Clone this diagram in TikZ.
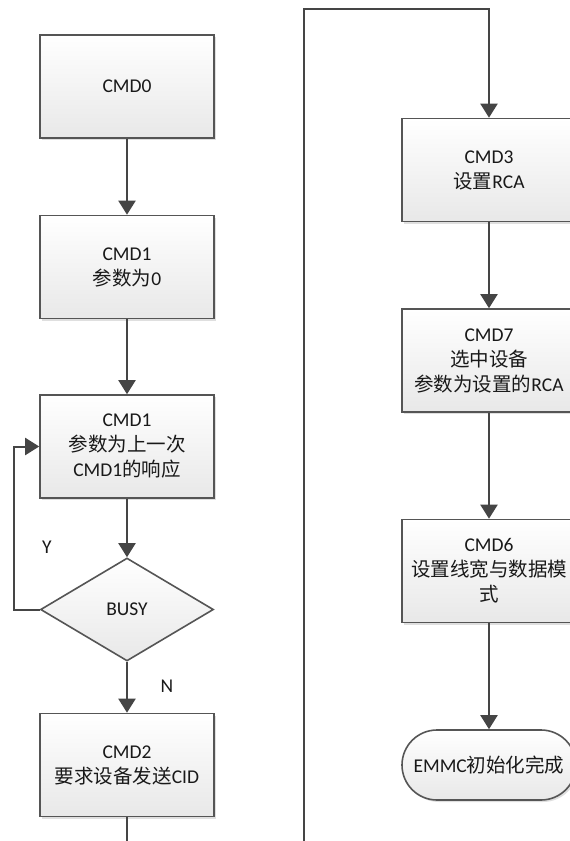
\documentclass[tikz,border=0pt]{standalone}
\usepackage{fontspec}
\setmainfont{Carlito}
\newfontfamily\cjk{Noto Sans CJK SC}
\usetikzlibrary{arrows.meta,shapes.geometric,shapes.misc,shadows}
\definecolor{linec}{HTML}{454545}
\definecolor{borderc}{HTML}{555555}
\definecolor{botc}{HTML}{E8E8E8}
\tikzset{
  txt/.style={font=\fontsize{19.5}{25}\selectfont, text=black!90, align=center},
  box/.style={txt, draw=borderc, line width=1.6pt, top color=white, bottom color=botc,
    minimum width=174pt, minimum height=103pt, inner sep=0pt,
    drop shadow={shadow xshift=2pt, shadow yshift=-2pt, opacity=0.25, fill=gray}},
  dia/.style={txt, diamond, draw=borderc, line width=1.6pt, top color=white, bottom color=botc,
    minimum width=173pt, minimum height=103pt, inner sep=0pt, aspect=1.68},
  term/.style={txt, rounded rectangle, draw=borderc, line width=1.6pt, top color=white, bottom color=botc,
    minimum width=174pt, minimum height=70pt, inner sep=0pt,
    drop shadow={shadow xshift=2pt, shadow yshift=-2pt, opacity=0.25, fill=gray}},
  conn/.style={draw=linec, line width=2pt, -{Triangle[length=14pt,width=17pt]}},
  lab/.style={txt}
}
\begin{document}
\begin{tikzpicture}[x=1pt,y=-1pt]
\useasboundingbox (0,0) rectangle (570,841);
\clip (0,0) rectangle (570,841);
\fill[white] (0,0) rectangle (570,841);
% left column
\node[box] (c0) at (127,86.5) {CMD0};
\node[box] (c1) at (127,267) {CMD1\\{\cjk 参数为}0};
\node[box] (c1b) at (127,446.5) {CMD1\\{\cjk 参数为上一次}\\CMD1{\cjk 的响应}};
\node[dia] (busy) at (127,609.5) {BUSY};
\node[box] (c2) at (127,765) {CMD2\\{\cjk 要求设备发送}CID};
% right column
\node[box] (c3) at (489,170) {CMD3\\{\cjk 设置}RCA};
\node[box] (c7) at (489,360.5) {CMD7\\{\cjk 选中设备}\\{\cjk 参数为设置的}RCA};
\node[box] (c6) at (489,571) {CMD6\\{\cjk 设置线宽与数据模}\\{\cjk 式}};
\node[term] (done) at (489,765) {EMMC{\cjk 初始化完成}};
% labels
\node[lab] (ly) at (47,547) {Y};
\node[lab] (ln) at (167,686) {N};
% coordinates
\coordinate (lp) at (14,609.5);
\coordinate (b1) at (127,870);
\coordinate (b2) at (304,870);
\coordinate (tp) at (304,9);
% connectors
\draw[conn] (c0) -- (c1);
\draw[conn] (c1) -- (c1b);
\draw[conn] (c1b) -- (busy);
\draw[conn] (busy) -- (c2);
\draw[conn] (busy.west) -- (lp) |- (c1b.west);
\draw[conn] (c2.south) -- (b1) -- (b2) -- (tp) -| (c3.north);
\draw[conn] (c3) -- (c7);
\draw[conn] (c7) -- (c6);
\draw[conn] (c6) -- (done);
\end{tikzpicture}
\end{document}
